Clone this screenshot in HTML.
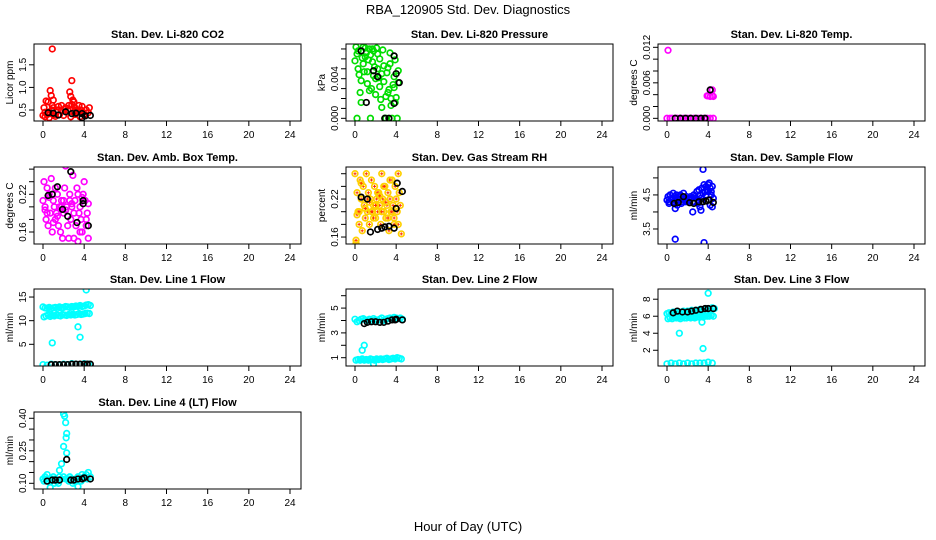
<!DOCTYPE html>
<html><head><meta charset="utf-8"><style>
body{margin:0;background:#fff;}
svg{display:block;font-family:"Liberation Sans",sans-serif;}
</style></head><body>
<svg id="chart" width="936" height="540" viewBox="0 0 936 540" xmlns="http://www.w3.org/2000/svg">
<rect width="936" height="540" fill="#fff"/>
<text x="468" y="14" font-size="13" text-anchor="middle">RBA_120905  Std. Dev. Diagnostics</text>
<text x="468" y="531" font-size="13" text-anchor="middle">Hour of Day (UTC)</text>
</svg>
<script>
const xTicks = [0,4,8,12,16,20,24];

// Panel 1 CO2
const co2X = [0.0,0.1,0.2,0.3,0.4,0.5,0.6,0.7,0.8,0.9,1.0,1.1,1.2,1.4,1.5,1.6,1.8,2.0,2.2,2.4,2.6,2.7,2.8,2.9,3.0,3.1,3.2,3.4,3.5,3.6,3.8,3.9,4.0,4.2,4.5,0.2,0.5,0.7,0.85,1.0,2.7,2.8,3.0,3.1,0.9,1.3,2.1,2.5,3.3,3.7,4.1,4.4];
const co2Y = [0.38,0.55,0.45,0.7,0.4,0.68,0.33,0.93,0.82,1.85,0.72,0.4,0.36,0.5,0.58,0.4,0.6,0.38,0.55,0.5,0.9,0.8,1.15,0.72,0.68,0.4,0.5,0.45,0.6,0.35,0.58,0.45,0.4,0.5,0.55,0.35,0.45,0.42,0.5,0.55,0.35,0.62,0.45,0.55,0.6,0.45,0.52,0.6,0.48,0.5,0.38,0.44];
const co2AvgX = [0.5,1.0,1.5,2.2,2.8,3.2,3.8,3.8,4.1,4.6];
const co2AvgY = [0.44,0.43,0.39,0.46,0.42,0.43,0.42,0.33,0.37,0.38];

// Panel 2 pressure
const presX = [0.0,0.1,0.2,0.3,0.4,0.5,0.6,0.7,0.8,0.9,1.0,1.1,1.2,1.3,1.4,1.5,1.6,1.7,1.8,1.9,2.0,2.1,2.2,2.3,2.4,2.5,2.6,2.7,2.8,2.9,3.0,3.1,3.2,3.3,3.4,3.5,3.6,3.7,3.8,3.9,4.0,4.1,4.2,0.2,0.6,1.0,1.4,1.8,2.2,2.6,3.0,3.4,3.8,4.2,1.5,1.7,2.0,2.4,3.2,3.9,0.3,0.8,1.2,2.8,3.5];
const presY = [0.0058,0.0072,0.0065,0.0050,0.0044,0.0026,0.0016,0.0061,0.0055,0.0047,0.0071,0.0066,0.0035,0.0059,0.0028,0.0,0.0030,0.0070,0.0068,0.0052,0.0024,0.0071,0.0065,0.0041,0.0032,0.0019,0.0045,0.0069,0.0037,0.0,0.0022,0.0046,0.0051,0.0029,0.0066,0.0013,0.0,0.0034,0.0042,0.0059,0.0021,0.0,0.0048,0.0,0.0038,0.0062,0.0070,0.0043,0.0050,0.0011,0.0,0.0055,0.0031,0.0036,0.0064,0.0057,0.0040,0.0060,0.0026,0.0016,0.0068,0.0072,0.0047,0.0053,0.0020];
const presAvgX = [0.6,1.8,2.2,1.1,2.9,3.3,3.8,4.0,3.8,4.3];
const presAvgY = [0.0068,0.0048,0.0042,0.0016,0.0,0.0,0.0063,0.0045,0.0015,0.0036];

// Panel 3 Li-820 temp
const ltX = [0.0,0.1,0.3,0.5,0.8,1.0,1.3,1.6,2.0,2.3,2.6,3.0,3.3,3.6,3.9,4.2,4.5,3.9,4.0,4.2,4.4,4.5,4.2,4.4];
const ltY = [0,0.0115,0,0,0,0,0,0,0,0,0,0,0,0,0,0,0,0.0038,0.0038,0.0037,0.0038,0.0037,0.0048,0.0048];
const ltAvgX = [0.8,1.3,1.8,2.3,2.8,3.3,3.7,4.2];
const ltAvgY = [0,0,0,0,0,0,0,0.0048];

// Panel 4 amb box temp
const abX = [0.0,0.1,0.2,0.3,0.4,0.5,0.6,0.7,0.8,0.9,1.0,1.1,1.2,1.3,1.4,1.5,1.6,1.7,1.8,1.9,2.0,2.1,2.2,2.3,2.4,2.5,2.6,2.7,2.8,2.9,3.0,3.1,3.2,3.3,3.4,3.5,3.6,3.7,3.8,3.9,4.0,4.1,4.2,4.3,4.4,0.2,0.6,1.0,1.4,1.8,2.2,2.6,3.0,3.4,3.8,4.2,0.4,1.2,2.0,2.8,3.6,4.4];
const abY = [0.21,0.24,0.20,0.18,0.23,0.17,0.22,0.19,0.245,0.16,0.21,0.20,0.18,0.19,0.22,0.17,0.20,0.16,0.21,0.15,0.19,0.23,0.265,0.20,0.17,0.15,0.22,0.18,0.205,0.25,0.19,0.21,0.17,0.23,0.145,0.19,0.20,0.18,0.16,0.22,0.24,0.21,0.17,0.19,0.205,0.195,0.215,0.175,0.185,0.2,0.195,0.21,0.15,0.22,0.215,0.18,0.19,0.23,0.21,0.2,0.16,0.15];
const abAvgX = [0.5,0.9,1.4,1.9,2.7,2.4,3.9,3.3,3.9,4.4];
const abAvgY = [0.218,0.22,0.232,0.196,0.256,0.185,0.21,0.175,0.205,0.17];

// Panel 5 gas stream RH
const rhX = [0.0,0.1,0.2,0.3,0.4,0.5,0.6,0.7,0.8,0.9,1.0,1.1,1.2,1.3,1.4,1.5,1.6,1.7,1.8,1.9,2.0,2.1,2.2,2.3,2.4,2.5,2.6,2.7,2.8,2.9,3.0,3.1,3.2,3.3,3.4,3.5,3.6,3.7,3.8,3.9,4.0,4.1,4.2,4.3,4.4,4.5,0.2,0.6,1.0,1.4,1.8,2.2,2.6,3.0,3.4,3.8,4.2,0.4,1.2,2.0,2.8,3.6,0.1,1.6,2.4,3.2];
const rhY = [0.26,0.15,0.23,0.2,0.18,0.25,0.22,0.17,0.24,0.21,0.19,0.26,0.2,0.23,0.18,0.22,0.25,0.2,0.21,0.24,0.19,0.22,0.2,0.23,0.21,0.18,0.26,0.22,0.2,0.24,0.19,0.21,0.23,0.17,0.22,0.2,0.25,0.21,0.19,0.24,0.22,0.2,0.18,0.23,0.21,0.165,0.195,0.245,0.205,0.215,0.19,0.23,0.2,0.215,0.25,0.18,0.26,0.2,0.22,0.21,0.24,0.2,0.155,0.2,0.225,0.19];
const rhAvgX = [0.6,1.2,1.5,2.2,2.6,2.9,3.3,3.8,4.1,4.0,4.6];
const rhAvgY = [0.223,0.22,0.168,0.172,0.174,0.176,0.177,0.174,0.245,0.205,0.232];

// Panel 6 sample flow
const sfX = [0.0,0.1,0.2,0.3,0.4,0.5,0.6,0.7,0.8,0.9,1.0,1.1,1.2,1.3,1.4,1.5,1.6,1.7,1.8,1.9,2.0,2.1,2.2,2.3,2.4,2.5,2.6,2.7,2.8,2.9,3.0,3.1,3.2,3.3,3.4,3.5,3.6,3.7,3.8,3.9,4.0,4.1,4.2,4.3,4.4,4.5,0.2,0.6,1.0,1.4,1.8,2.2,2.6,3.0,3.4,3.8,4.0,4.2,4.4,0.8,3.5,3.6,2.5,3.3,3.2,0.8,4.3];
const sfY = [4.35,4.45,4.3,4.5,4.4,4.35,4.55,4.3,4.45,4.5,4.4,4.35,4.45,4.5,4.3,4.4,4.55,4.35,4.4,4.45,4.3,4.4,4.35,4.45,4.4,4.3,4.5,4.45,4.4,4.6,4.35,4.65,4.5,4.4,4.7,4.55,4.8,4.6,4.75,4.65,4.8,4.85,4.7,4.6,4.75,4.4,4.25,4.3,4.2,4.25,4.3,4.35,4.3,4.25,4.3,4.5,4.6,4.2,4.15,4.1,5.25,3.1,4.0,4.05,4.15,3.2,4.5];
const sfAvgX = [0.7,1.1,1.6,2.2,2.6,3.1,3.5,3.8,4.1,4.5];
const sfAvgY = [4.25,4.28,4.45,4.27,4.25,4.3,4.3,4.32,4.35,4.28];

// Panel 7 line 1
const l1X = [0.0,0.2,0.4,0.6,0.8,1.0,1.2,1.4,1.6,1.8,2.0,2.2,2.4,2.6,2.8,3.0,3.2,3.4,3.6,3.8,4.0,4.2,4.4,4.6,0.1,0.3,0.5,0.7,0.9,1.1,1.3,1.5,1.7,1.9,2.1,2.3,2.5,2.7,2.9,3.1,3.3,3.5,3.7,3.9,4.1,4.3,4.5,0.0,0.4,0.8,1.2,1.6,2.0,2.4,2.8,3.2,3.6,4.0,4.4,0.9,3.4,3.6,4.2];
const l1Y = [12.9,12.7,12.6,12.8,12.5,12.7,12.8,12.6,12.9,12.7,12.8,13.0,12.9,12.8,13.0,12.9,13.1,13.0,13.2,13.0,13.1,13.3,13.4,13.2,10.8,11.0,11.2,10.9,11.1,11.0,11.2,11.1,11.0,11.3,11.2,11.1,11.3,11.2,11.4,11.2,11.3,11.5,11.3,11.4,11.5,11.6,11.5,0.7,0.6,0.8,0.7,0.6,0.8,0.7,0.9,0.8,0.7,0.9,0.8,5.3,8.7,6.5,16.5];
const l1AvgX = [0.8,1.2,1.6,2.0,2.4,2.8,3.2,3.6,4.0,4.3,4.6];
const l1AvgY = [0.7,0.7,0.7,0.7,0.7,0.8,0.8,0.8,0.8,0.8,0.8];

// Panel 8 line 2
const l2X = [0.0,0.2,0.4,0.6,0.8,1.0,1.2,1.4,1.6,1.8,2.0,2.2,2.4,2.6,2.8,3.0,3.2,3.4,3.6,3.8,4.0,4.2,4.4,4.6,0.1,0.3,0.5,0.7,0.9,1.1,1.3,1.5,1.7,1.9,2.1,2.3,2.5,2.7,2.9,3.1,3.3,3.5,3.7,3.9,4.1,4.3,4.5,0.7,0.9,1.8,4.1];
const l2Y = [4.1,3.9,4.0,4.1,4.15,4.05,4.0,4.1,4.0,4.15,4.05,4.0,4.1,4.2,4.0,4.1,4.15,4.2,4.1,4.25,4.2,4.15,4.2,4.1,0.8,0.85,0.8,0.9,0.8,0.85,0.8,0.9,0.85,0.8,0.9,0.85,0.9,0.85,0.9,0.95,0.85,0.9,0.95,0.9,1.0,0.95,0.9,1.6,2.0,0.5,6.8];
const l2AvgX = [0.9,1.2,1.6,2.0,2.4,2.8,3.2,3.6,3.9,4.0,4.6];
const l2AvgY = [3.75,3.85,3.9,3.9,3.85,3.85,3.95,4.05,4.05,4.1,4.05];

// Panel 9 line 3
const l3X = [0.0,0.2,0.4,0.6,0.8,1.0,1.2,1.4,1.6,1.8,2.0,2.2,2.4,2.6,2.8,3.0,3.2,3.4,3.6,3.8,4.0,4.2,4.4,4.6,0.1,0.3,0.5,0.7,0.9,1.1,1.3,1.5,1.7,1.9,2.1,2.3,2.5,2.7,2.9,3.1,3.3,3.5,3.7,3.9,4.1,4.3,4.5,0.0,0.4,0.8,1.2,1.6,2.0,2.4,2.8,3.2,3.6,4.0,4.4,1.2,3.5,3.4,4.0];
const l3Y = [6.3,6.4,6.3,6.5,6.4,6.5,6.4,6.5,6.6,6.5,6.6,6.5,6.7,6.6,6.7,6.6,6.8,6.7,6.8,6.9,6.8,6.9,7.0,6.9,5.7,5.8,5.7,5.9,5.8,5.8,5.7,5.9,5.8,5.8,5.9,5.8,5.9,5.8,5.9,5.9,6.0,5.9,6.0,6.0,6.0,6.1,6.0,0.4,0.5,0.4,0.5,0.4,0.5,0.4,0.5,0.5,0.5,0.6,0.5,4.0,2.2,5.3,8.7];
const l3AvgX = [0.6,1.0,1.5,2.0,2.4,2.8,3.3,3.7,4.0,4.5];
const l3AvgY = [6.4,6.6,6.5,6.5,6.6,6.7,6.8,6.9,6.9,6.9];

// Panel 10 line 4
const l4X = [0.0,0.2,0.4,0.6,0.8,1.0,1.2,1.4,1.6,1.8,2.0,2.2,2.4,2.6,2.8,3.0,3.2,3.4,3.6,3.8,4.0,4.2,4.4,4.6,0.1,0.3,0.5,0.9,1.1,1.3,2.5,2.7,2.9,3.1,3.3,3.7,3.9,4.1,4.3,2.0,2.1,2.2,2.3,2.25,2.0,2.3,1.8,1.6,0.7,3.4,1.5];
const l4Y = [0.12,0.13,0.14,0.12,0.11,0.13,0.12,0.11,0.13,0.12,0.13,0.12,0.12,0.13,0.12,0.11,0.12,0.13,0.12,0.14,0.13,0.14,0.15,0.13,0.11,0.12,0.11,0.12,0.1,0.11,0.11,0.12,0.1,0.11,0.12,0.11,0.12,0.13,0.12,0.42,0.41,0.38,0.33,0.31,0.27,0.24,0.19,0.16,0.08,0.085,0.10];
const l4AvgX = [0.4,0.9,1.2,1.6,2.3,2.7,3.0,3.4,3.8,4.0,4.6];
const l4AvgY = [0.11,0.115,0.115,0.115,0.21,0.115,0.115,0.12,0.12,0.125,0.12];

const panelTitles = ["Stan. Dev. Li-820 CO2","Stan. Dev. Li-820 Pressure","Stan. Dev. Li-820 Temp.","Stan. Dev. Amb. Box Temp.","Stan. Dev. Gas Stream RH","Stan. Dev. Sample Flow","Stan. Dev. Line 1 Flow","Stan. Dev. Line 2 Flow","Stan. Dev. Line 3 Flow","Stan. Dev. Line 4 (LT) Flow"];
const panelYLabels = ["Licor ppm","kPa","degrees C","degrees C","percent","ml/min","ml/min","ml/min","ml/min","ml/min"];
const panelYMin = [0.257,-0.00027,-0.00045,0.1409,0.149,3.059,0.41,0.33,0.15,0.0737];
const panelYMax = [1.96,0.0075,0.01256,0.2634,0.2706,5.32,16.7,6.54,9.2,0.429];
const panelYTicks = [[0.5,1.0,1.5],[0,0.001,0.002,0.003,0.004,0.005,0.006,0.007],[0,0.002,0.004,0.006,0.008,0.010,0.012],[0.16,0.18,0.20,0.22,0.24,0.26],[0.16,0.18,0.20,0.22,0.24,0.26],[3.5,4.0,4.5,5.0],[5,10,15],[1,2,3,4,5,6],[2,4,6,8],[0.10,0.15,0.20,0.25,0.30,0.35,0.40]];
const panelYTickLabels = [["0.5","1.0","1.5"],["0.000","","","","0.004","","",""],["0.000","","","0.006","","","0.012"],["0.16","","","0.22","",""],["0.16","","","0.22","",""],["3.5","","4.5",""],["5","10","15"],["1","","3","","5",""],["2","4","6","8"],["0.10","","","0.25","","","0.40"]];
const panelSeries = [
  [[co2X,co2Y,"#ff0000"],[co2AvgX,co2AvgY,"#000"]],
  [[presX,presY,"#00dd00"],[presAvgX,presAvgY,"#000"]],
  [[ltX,ltY,"#ff00ff"],[ltAvgX,ltAvgY,"#000"]],
  [[abX,abY,"#ff00ff"],[abAvgX,abAvgY,"#000"]],
  [[rhX,rhY,"#ffd000"],[rhAvgX,rhAvgY,"#000"]],
  [[sfX,sfY,"#0000ff"],[sfAvgX,sfAvgY,"#000"]],
  [[l1X,l1Y,"#00ffff"],[l1AvgX,l1AvgY,"#000"]],
  [[l2X,l2Y,"#00ffff"],[l2AvgX,l2AvgY,"#000"]],
  [[l3X,l3Y,"#00ffff"],[l3AvgX,l3AvgY,"#000"]],
  [[l4X,l4Y,"#00ffff"],[l4AvgX,l4AvgY,"#000"]]
];

const NS = "http://www.w3.org/2000/svg";
const svg = document.getElementById("chart");
const colOff = [0,312,624];
const rowOff = [0,123,245,368];
const BL = 34, BR = 301, BT = 44, BB = 121, X0 = 43, X24 = 290;

function mk(tag, attrs, parent){
  const e = document.createElementNS(NS, tag);
  for (const k in attrs) e.setAttribute(k, attrs[k]);
  parent.appendChild(e);
  return e;
}

panelTitles.forEach((title, i) => {
  const ox = colOff[i % 3], oy = rowOff[Math.floor(i / 3)];
  const g = mk("g", {transform: "translate(" + ox + "," + oy + ")"}, svg);
  
  
  const ymin = panelYMin[i], ymax = panelYMax[i];
  const xs = v => X0 + (X24 - X0) * v / 24;
  const ys = v => BB - (BB - BT) * (v - ymin) / (ymax - ymin);

  const t = mk("text", {x: (BL + BR) / 2, y: 38, "font-size": "11", "font-weight": "bold", "text-anchor": "middle"}, g);
  t.textContent = title;
  
  

  const yl = mk("text", {transform: "translate(13," + ((BT + BB) / 2) + ") rotate(-90)", "font-size": "10", "text-anchor": "middle"}, g);
  yl.textContent = panelYLabels[i];
  
  

  const clip = mk("clipPath", {id: "clip" + i}, g);
  mk("rect", {x: BL, y: BT, width: BR - BL, height: BB - BT}, clip);

  const pts = mk("g", {"clip-path": "url(#clip" + i + ")"}, g);
  panelSeries[i].forEach((s, si) => {
    const sx = s[0], sy = s[1], col = s[2];
    for (let k = 0; k < sx.length; k++) {
      const c = mk("circle", {cx: xs(sx[k]), cy: ys(sy[k]), r: 2.8, fill: "none", stroke: col, "stroke-width": 1.7}, pts);
      
      
      if (i === 4 && si === 0) {
        const p = mk("path", {d: "M" + (xs(sx[k]) - 1.5) + "," + ys(sy[k]) + "h3M" + xs(sx[k]) + "," + (ys(sy[k]) - 1.5) + "v3", stroke: "#ff3000", "stroke-width": 1}, pts);
        
        
      }
    }
  });

  const box = mk("rect", {x: BL, y: BT, width: BR - BL, height: BB - BT, fill: "none", stroke: "#000", "stroke-width": 1}, g);
  
  

  xTicks.forEach(v => {
    const tk = mk("line", {x1: xs(v), x2: xs(v), y1: BB, y2: BB + 5, stroke: "#000"}, g);
    
    
    const lb = mk("text", {x: xs(v), y: BB + 17, "font-size": "10", "text-anchor": "middle"}, g);
    lb.textContent = String(v);
    
    
  });

  panelYTicks[i].forEach((v, k) => {
    const tk = mk("line", {x1: BL - 5, x2: BL, y1: ys(v), y2: ys(v), stroke: "#000"}, g);
    
    
    const txt = panelYTickLabels[i][k];
    if (txt) {
      const lb = mk("text", {transform: "translate(" + (BL - 8) + "," + ys(v) + ") rotate(-90)", "font-size": "10", "text-anchor": "middle"}, g);
      lb.textContent = txt;
      
      
    }
  });
});
</script>
</body></html>
